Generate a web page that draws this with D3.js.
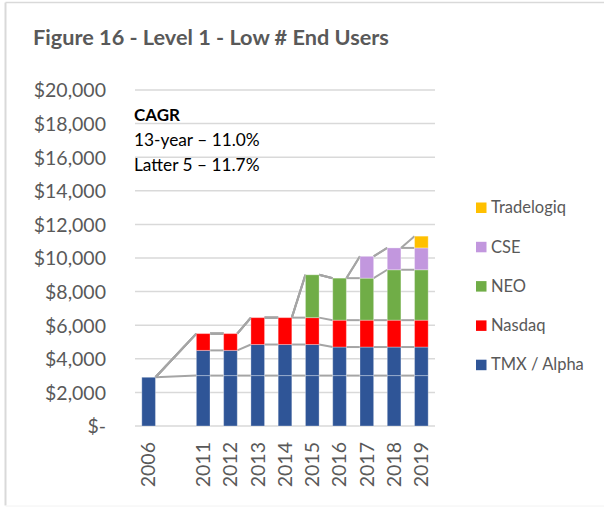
<!DOCTYPE html>
<html>
<head>
<meta charset="utf-8">
<script src="https://cdn.jsdelivr.net/npm/d3@7"></script>
<style>
  html, body { margin: 0; padding: 0; background: #fff; }
  svg { display: block; font-family: Lato, "Open Sans", sans-serif; }
</style>
</head>
<body>
<div id="chart"></div>
<script>
// categories, "" is the empty slot between 2006 and 2011
const categories = ["2006", "", "2011", "2012", "2013", "2014", "2015", "2016", "2017", "2018", "2019"];

// TMX / Alpha is drawn as two blue pieces (base + upper) like the original sheet
const tmxBase = [2900, null, 3000, 3000, 3000, 3000, 3000, 3000, 3000, 3000, 3000];
const alpha = [null, null, 1500, 1500, 1850, 1850, 1850, 1700, 1700, 1700, 1700];
const nasdaq = [0, null, 1000, 1000, 1600, 1600, 1600, 1600, 1600, 1600, 1600];
const neo = [0, null, 0, 0, 0, 0, 2550, 2500, 2500, 3000, 3000];
const cse = [0, null, 0, 0, 0, 0, 0, 0, 1300, 1300, 1300];
const tradelogiq = [0, null, 0, 0, 0, 0, 0, 0, 0, 0, 700];

const yTicks = [0, 2000, 4000, 6000, 8000, 10000, 12000, 14000, 16000, 18000, 20000];
const cagrLines = ["13-year \u2013 11.0%", "Latter 5 \u2013 11.7%"];

const series = [
  { key: "TMX", values: tmxBase, color: "#2F5597" },
  { key: "Alpha", values: alpha, color: "#2F5597" },
  { key: "Nasdaq", values: nasdaq, color: "#FF0000" },
  { key: "NEO", values: neo, color: "#70AD47" },
  { key: "CSE", values: cse, color: "#C297DE" },
  { key: "Tradelogiq", values: tradelogiq, color: "#FFC000" }
];

const legendItems = [
  { label: "Tradelogiq", color: "#FFC000" },
  { label: "CSE", color: "#C297DE" },
  { label: "NEO", color: "#70AD47" },
  { label: "Nasdaq", color: "#FF0000" },
  { label: "TMX / Alpha", color: "#2F5597" }
];

const W = 604, H = 507;
const margin = { top: 90, right: 169, bottom: 81, left: 135 };

const svg = d3.select("#chart").append("svg")
  .attr("width", W)
  .attr("height", H);

// frame: top and left edges show, bottom is very faint
svg.append("line")
  .attr("x1", 5.5).attr("x2", W).attr("y1", 2.5).attr("y2", 2.5)
  .attr("stroke", "#D9D9D9").attr("stroke-width", 1.5);
svg.append("line")
  .attr("x1", 5.5).attr("x2", 5.5).attr("y1", 2.5).attr("y2", H - 1.5)
  .attr("stroke", "#D9D9D9").attr("stroke-width", 2);
svg.append("line")
  .attr("x1", 5.5).attr("x2", W).attr("y1", H - 1).attr("y2", H - 1)
  .attr("stroke", "#F2F2F2").attr("stroke-width", 1);

svg.append("text")
  .attr("x", 33).attr("y", 45)
  .attr("fill", "#595959")
  .style("font-size", "21.7px")
  .style("font-weight", "bold")
  .text("Figure 16 - Level 1 - Low # End Users");

const x = d3.scaleBand()
  .domain(categories)
  .range([margin.left, W - margin.right])
  .paddingInner(0.5)
  .paddingOuter(0.25);

const y = d3.scaleLinear()
  .domain([0, 20000])
  .range([H - margin.bottom, margin.top]);

// gridlines
svg.append("g")
  .selectAll("line")
  .data(yTicks)
  .join("line")
  .attr("x1", margin.left)
  .attr("x2", W - margin.right)
  .attr("y1", d => y(d))
  .attr("y2", d => y(d))
  .attr("stroke", "#D9D9D9")
  .attr("stroke-width", 1.5);

// y axis labels
const yAxis = svg.append("g")
  .attr("transform", `translate(${margin.left - 29},0)`)
  .call(d3.axisLeft(y).tickValues(yTicks).tickSize(0).tickPadding(0)
    .tickFormat(d => d === 0 ? "$-" : "$" + d3.format(",")(d)));
yAxis.select(".domain").remove();
yAxis.selectAll("text")
  .attr("fill", "#595959")
  .style("font-size", "19.5px")
  .style("font-family", "Lato, sans-serif")
  .attr("dy", "0.35em");

// stacked tops
const tops = series.map(() => []);
categories.forEach((c, i) => {
  let acc = 0;
  series.forEach((s, k) => {
    const v = s.values[i];
    const y0 = acc;
    if (v != null) acc += v;
    tops[k].push({ cat: c, v: v, y0: y0, y1: acc });
  });
});

// series lines between neighbouring bars
const realIdx = categories.map((c, i) => i).filter(i => categories[i] !== "");
const links = [];
series.forEach((s, k) => {
  for (let n = 0; n < realIdx.length - 1; n++) {
    const a = tops[k][realIdx[n]], b = tops[k][realIdx[n + 1]];
    if (a.v == null || b.v == null) continue;
    links.push({ a, b });
  }
});
svg.append("g")
  .selectAll("line")
  .data(links)
  .join("line")
  .attr("x1", d => x(d.a.cat) + x.bandwidth())
  .attr("x2", d => x(d.b.cat))
  .attr("y1", d => y(d.a.y1))
  .attr("y2", d => y(d.b.y1))
  .attr("stroke", "#A5A5A5")
  .attr("stroke-width", 2);

// bars
series.forEach((s, k) => {
  svg.append("g")
    .selectAll("rect")
    .data(tops[k].filter(d => d.v))
    .join("rect")
    .attr("x", d => x(d.cat))
    .attr("width", x.bandwidth())
    .attr("y", d => y(d.y1))
    .attr("height", d => y(d.y0) - y(d.y1))
    .attr("fill", s.color)
    .attr("stroke", "rgba(255,255,255,0.3)")
    .attr("stroke-width", 1);
});

// x labels (rotated)
const xAxis = svg.append("g")
  .attr("transform", `translate(0,${H - margin.bottom + 16})`)
  .call(d3.axisBottom(x).tickSize(0).tickPadding(0));
xAxis.select(".domain").remove();
xAxis.selectAll("text")
  .attr("fill", "#595959")
  .style("font-size", "19.5px")
  .style("font-family", "Lato, sans-serif")
  .attr("text-anchor", "end")
  .attr("transform", "rotate(-90)")
  .attr("x", 0)
  .attr("y", 0)
  .attr("dy", "0.35em");

// CAGR note
const note = svg.append("g").attr("transform", "translate(134,0)");
note.append("text")
  .attr("y", 121)
  .style("font-size", "17px")
  .style("font-weight", "bold")
  .text("CAGR");
note.selectAll("text.l")
  .data(cagrLines)
  .join("text")
  .attr("class", "l")
  .attr("y", (d, i) => 146 + i * 24.5)
  .style("font-size", "17.3px")
  .text(d => d);

// legend
const lg = svg.append("g").attr("transform", "translate(476,0)");
const li = lg.selectAll("g")
  .data(legendItems)
  .join("g")
  .attr("transform", (d, i) => `translate(0,${207.5 + i * 39.3})`);
li.append("rect")
  .attr("x", 0).attr("y", -5)
  .attr("width", 10.5).attr("height", 10.5)
  .attr("fill", d => d.color);
li.append("text")
  .attr("x", 15)
  .attr("dy", "0.35em")
  .attr("fill", "#595959")
  .style("font-size", "16.5px")
  .text(d => d.label);
</script>
</body>
</html>
